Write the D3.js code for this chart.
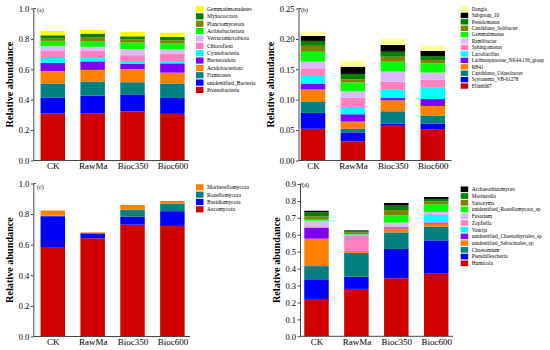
<!DOCTYPE html>
<html>
  <head>
    <meta charset="utf-8">
    <title>Relative abundance</title>
    <style>
      body { margin: 0; background: #fff; }
      text { font-family: "Liberation Serif", "Times New Roman", serif; fill: #000; }
    </style>
  </head>
  <body>
    <div id="chart"></div>
    <script src="https://cdn.jsdelivr.net/npm/d3@7"></script>
    <script>

    var groups = ["CK", "RawMa", "Bioc350", "Bioc600"];

    // (a) bacterial phyla, bottom of stack first
    var bactPhyla = ["Proteobacteria", "unidentified_Bacteria", "Firmicutes", "Acidobacteriota",
      "Bacteroidota", "Cyanobacteria", "Chloroflexi", "Verrucomicrobiota", "Actinobacteriota",
      "Planctomycetota", "Myxococcota", "Gemmatimonadetes"];
    var bactPhylaValues = [
      [0.309, 0.311, 0.322, 0.307],
      [0.106, 0.115, 0.113, 0.104],
      [0.092, 0.094, 0.080, 0.096],
      [0.082, 0.076, 0.085, 0.071],
      [0.054, 0.056, 0.035, 0.061],
      [0.031, 0.022, 0.013, 0.015],
      [0.046, 0.050, 0.045, 0.050],
      [0.032, 0.024, 0.040, 0.026],
      [0.035, 0.035, 0.043, 0.040],
      [0.015, 0.028, 0.020, 0.021],
      [0.022, 0.024, 0.021, 0.022],
      [0.028, 0.024, 0.029, 0.028]
    ];

    // (b) bacterial genera
    var bactGenera = ["Ellin6067", "Scytonema_VB-61278", "Candidatus_Udaeobacter", "RB41",
      "Lachnospiraceae_NK4A136_group", "Lactobacillus", "Sphingomonas", "Ramlibacter",
      "Gemmatimonas", "Candidatus_Solibacter", "Pseudomonas", "Subgroup_10", "Dongia"];
    var bactGeneraValues = [
      [0.0522, 0.0315, 0.0571, 0.0516],
      [0.0261, 0.0147, 0.0038, 0.0093],
      [0.0179, 0.0060, 0.0201, 0.0125],
      [0.0206, 0.0119, 0.0179, 0.0163],
      [0.0098, 0.0120, 0.0038, 0.0114],
      [0.0124, 0.0119, 0.0136, 0.0185],
      [0.0126, 0.0153, 0.0136, 0.0136],
      [0.0109, 0.0103, 0.0163, 0.0114],
      [0.0163, 0.0147, 0.0163, 0.0152],
      [0.0098, 0.0054, 0.0082, 0.0054],
      [0.0081, 0.0087, 0.0081, 0.0065],
      [0.0082, 0.0119, 0.0114, 0.0087],
      [0.0071, 0.0098, 0.0098, 0.0087]
    ];

    // (c) fungal phyla
    var fungiPhyla = ["Ascomycota", "Basidiomycota", "Rozellomycota", "Mortierellomycota"];
    var fungiPhylaValues = [
      [0.585, 0.642, 0.731, 0.723],
      [0.201, 0.030, 0.053, 0.096],
      [0.004, 0.005, 0.044, 0.050],
      [0.033, 0.004, 0.032, 0.017]
    ];

    // (d) fungal genera, legend order (bottom first)
    var fungiGenera = ["Humicola", "Pseudallescheria", "Chaetomium", "unidentified_Sebacinales_sp",
      "unidentified_Chaetothyriales_sp", "Vanrija", "Zopfiella", "Fusarium",
      "unidentified_Rozellomycota_sp", "Saitozyma", "Mortierella", "Archaeorhizomyces"];
    var fungiGeneraValues = [
      [0.2205, 0.280, 0.343, 0.370],
      [0.1165, 0.072, 0.173, 0.197],
      [0.078, 0.141, 0.098, 0.081],
      [0.162, 0.010, 0.024, 0.018],
      [0.065, 0.001, 0.006, 0.006],
      [0.002, 0.006, 0.001, 0.042],
      [0.006, 0.088, 0.001, 0.003],
      [0.033, 0.003, 0.026, 0.018],
      [0.006, 0.003, 0.043, 0.045],
      [0.020, 0.011, 0.031, 0.016],
      [0.024, 0.006, 0.026, 0.015],
      [0.009, 0.005, 0.016, 0.012]
    ];
    // in (d) Zopfiella sits below Vanrija in the bars
    var fungiGeneraStack = [0, 1, 2, 3, 4, 6, 5, 7, 8, 9, 10, 11];

    var ticksA = [0, 0.2, 0.4, 0.6, 0.8, 1.0];
    var ticksB = [0, 0.05, 0.10, 0.15, 0.20, 0.25];
    var ticksD = [0, 0.1, 0.2, 0.3, 0.4, 0.5, 0.6, 0.7, 0.8, 0.9];

    var colorsA = ["#d00000", "#0000ff", "#008080", "#ff8000", "#8000ff", "#00ffff",
      "#ff80c0", "#dcb8ff", "#00ff00", "#808000", "#008000", "#ffff00"];
    var colorsB = ["#d00000", "#0000ff", "#008080", "#ff8000", "#8000ff", "#00ffff",
      "#ff80c0", "#dcb8ff", "#00ff00", "#808000", "#008000", "#000000", "#ffff99"];
    var colorsC = ["#d00000", "#0000ff", "#008080", "#ff8000"];
    var colorsD = ["#d00000", "#0000ff", "#008080", "#ff8000", "#8000ff", "#00ffff",
      "#ff80c0", "#dcb8ff", "#00ff00", "#808000", "#008000", "#000000"];

    var panels = [
      { tag: "(a)", taxa: bactPhyla, values: bactPhylaValues, colors: colorsA,
        ticks: ticksA, fmt: ".1f", yr: [160.5, 8.5], cx: [52.8, 172.4],
        ax: 33.3, axEnd: 189, titleX: 9.5, legX: 196, legY: 9, legStep: 7.36, legFont: 5.6, tagXY: [37, 10] },
      { tag: "(b)", taxa: bactGenera, values: bactGeneraValues, colors: colorsB,
        ticks: ticksB, fmt: ".2f", yr: [160.5, 8.5], cx: [313, 432.8],
        ax: 298.5, axEnd: 451.5, titleX: 270, legX: 460.7, legY: 9, legStep: 6.42, legFont: 5.1, tagXY: [301, 10] },
      { tag: "(c)", taxa: fungiPhyla, values: fungiPhylaValues, colors: colorsC,
        ticks: ticksA, fmt: ".1f", yr: [336.5, 183.5], cx: [52.8, 172.4],
        ax: 33.3, axEnd: 190, titleX: 9.5, legX: 196, legY: 187.3, legStep: 7.33, legFont: 5.6, tagXY: [37, 186.5] },
      { tag: "(d)", taxa: fungiGenera, values: fungiGeneraValues, colors: colorsD, stack: fungiGeneraStack,
        ticks: ticksD, fmt: ".1f", yr: [336.3, 184], cx: [316.5, 436.2],
        ax: 300, axEnd: 453, titleX: 276, legX: 460.7, legY: 189.3, legStep: 6.73, legFont: 5.4, tagXY: [302, 185] }
    ];

    var svg = d3.select("#chart").append("svg")
      .attr("width", 550)
      .attr("height", 350);

    var barW = 24.5;

    panels.forEach(function(p) {
      var ymax = p.ticks[p.ticks.length - 1];
      var y = d3.scaleLinear().domain([0, ymax]).range(p.yr);
      var x = d3.scaleLinear().domain([0, groups.length - 1]).range(p.cx);

      var rows = groups.map(function(g, gi) {
        var r = { group: g, i: gi };
        p.taxa.forEach(function(t, ti) { r[t] = p.values[ti][gi]; });
        return r;
      });

      var stack = d3.stack().keys(p.taxa);
      if (p.stack) stack.order(function() { return p.stack; });
      var series = stack(rows);

      var g = svg.append("g");

      g.selectAll(".layer")
        .data(series)
        .enter()
        .append("g")
        .attr("fill", function(d) { return p.colors[p.taxa.indexOf(d.key)]; })
        .selectAll("rect")
        .data(function(d) { return d; })
        .enter()
        .append("rect")
        .attr("x", function(d) { return x(d.data.i) - barW / 2; })
        .attr("width", barW)
        .attr("y", function(d) { return y(d[1]); })
        .attr("height", function(d) { return y(d[0]) - y(d[1]); });

      // y axis
      var yAxis = d3.axisLeft(y)
        .tickValues(p.ticks)
        .tickFormat(d3.format(p.fmt))
        .tickSize(2.5)
        .tickSizeOuter(0)
        .tickPadding(1.5);
      var ya = g.append("g")
        .attr("transform", "translate(" + p.ax + ",0)")
        .call(yAxis);
      ya.selectAll("text").style("font-size", "8.5px");
      ya.selectAll("line, path").attr("stroke", "#444");
      ya.append("line")
        .attr("x1", 0).attr("x2", 2.5)
        .attr("y1", y(ymax)).attr("y2", y(ymax))
        .attr("stroke", "#444");

      // x axis
      var xAxis = d3.axisBottom(x)
        .tickValues(d3.range(groups.length))
        .tickFormat(function(i) { return groups[i]; })
        .tickSize(0)
        .tickPadding(2.5);
      var xa = g.append("g")
        .attr("transform", "translate(0," + p.yr[0] + ")")
        .call(xAxis);
      xa.select(".domain").remove();
      xa.selectAll("text").style("font-size", "9px");
      g.append("line")
        .attr("x1", p.ax).attr("x2", p.axEnd)
        .attr("y1", p.yr[0]).attr("y2", p.yr[0])
        .attr("stroke", "#444");

      // axis title
      g.append("text")
        .attr("transform", "translate(" + p.titleX + "," + ((p.yr[0] + p.yr[1]) / 2) + ") rotate(-90)")
        .attr("text-anchor", "middle")
        .attr("dy", "0.35em")
        .style("font-size", "10.2px")
        .style("font-weight", "bold")
        .text("Relative abundance");

      g.append("text")
        .attr("x", p.tagXY[0])
        .attr("y", p.tagXY[1])
        .attr("dy", "0.35em")
        .style("font-size", "6px")
        .text(p.tag);

      // legend, top of stack first
      var leg = p.taxa.map(function(t, i) { return i; }).reverse();
      var lg = g.selectAll(".leg")
        .data(leg)
        .enter()
        .append("g")
        .attr("transform", function(d, k) {
          return "translate(" + p.legX + "," + (p.legY + k * p.legStep) + ")";
        });
      lg.append("rect")
        .attr("x", 0)
        .attr("y", -p.legStep * 0.42)
        .attr("width", 7.5)
        .attr("height", p.legStep * 0.84)
        .attr("fill", function(d) { return p.colors[d]; });
      lg.append("text")
        .attr("x", 11)
        .attr("dy", "0.35em")
        .style("font-size", p.legFont + "px")
        .text(function(d) { return p.taxa[d]; });
    });

    </script>
  </body>
</html>
